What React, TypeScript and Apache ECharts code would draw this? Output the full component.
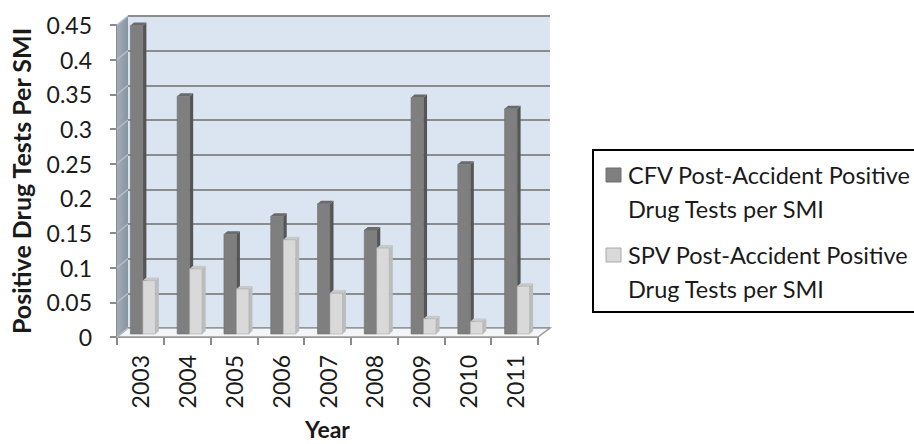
import React, { useEffect, useRef } from "react";
import * as echarts from "echarts";

const years = ["2003", "2004", "2005", "2006", "2007", "2008", "2009", "2010", "2011"];
const cfvValues = [0.445, 0.343, 0.144, 0.17, 0.188, 0.15, 0.341, 0.245, 0.325];
const spvValues = [0.077, 0.094, 0.065, 0.136, 0.059, 0.124, 0.022, 0.018, 0.069];
const yTicks = [0, 0.05, 0.1, 0.15, 0.2, 0.25, 0.3, 0.35, 0.4, 0.45];

const CFV_NAME = "CFV Post-Accident Positive Drug Tests per SMI";
const SPV_NAME = "SPV Post-Accident Positive Drug Tests per SMI";
const CFV_LINES = ["CFV Post-Accident Positive", "Drug Tests per SMI"];
const SPV_LINES = ["SPV Post-Accident Positive", "Drug Tests per SMI"];

const FONT = "Lato";
const WIDTH = 914;
const HEIGHT = 444;

// front plane of the 3-D box
const FRONT = { left: 117, top: 25, width: 421, height: 312 };
// depth offset of the back wall relative to the front plane
const DEPTH_X = 11;
const DEPTH_Y = 9;
const BACK = {
  left: FRONT.left + DEPTH_X,
  top: FRONT.top - DEPTH_Y,
  width: FRONT.width + 1,
  height: FRONT.height,
};

// column geometry
const BAR_W = 12.5;
const BAR_SHIFT_X = 2.5;
const BAR_LIFT = 3;
const SIDE_W = 3.5;
const SIDE_H = 3;

// legend frame (runs off the right edge of the canvas)
const LEGEND = { left: 593, top: 150, bottom: 312 };

type Shade = { front: string; side: string; top: string; edge: string };
const CFV_SHADE: Shade = { front: "#7f7f7f", side: "#555555", top: "#6a6a6a", edge: "#6f6f6f" };
const SPV_SHADE: Shade = { front: "#d9d9d9", side: "#bdbdbd", top: "#c9c9c9", edge: "#a9a9a9" };

function columnRenderer(shade: Shade, leftOfCenter: boolean) {
  return (params: any, api: any) => {
    const idx = api.value(0);
    const v = api.value(1);
    const top = api.coord([idx, v]);
    const base = api.coord([idx, 0]);
    const cx = top[0] + BAR_SHIFT_X;
    const x0 = leftOfCenter ? cx - BAR_W : cx;
    const x1 = x0 + BAR_W;
    const yT = top[1] - BAR_LIFT;
    const yB = base[1] - BAR_LIFT;
    return {
      type: "group",
      children: [
        {
          type: "polygon",
          shape: {
            points: [
              [x1, yT],
              [x1 + SIDE_W, yT - SIDE_H],
              [x1 + SIDE_W, yB - SIDE_H],
              [x1, yB],
            ],
          },
          style: { fill: shade.side },
        },
        {
          type: "polygon",
          shape: {
            points: [
              [x0, yT],
              [x0 + SIDE_W, yT - SIDE_H],
              [x1 + SIDE_W, yT - SIDE_H],
              [x1, yT],
            ],
          },
          style: { fill: shade.top },
        },
        {
          type: "rect",
          shape: { x: x0, y: yT, width: BAR_W, height: yB - yT },
          style: { fill: shade.front, stroke: shade.edge, lineWidth: 0.6 },
        },
      ],
    };
  };
}

// side wall, floor and the slanted grid lines joining front ticks to the back wall
function wallRenderer(params: any, api: any) {
  const v = api.value(0);
  const cs = params.coordSys;
  const yBack = api.coord([0, v])[1];
  const xBack = cs.x;
  const children: any[] = [];
  if (params.dataIndex === 0) {
    const yTopBack = cs.y;
    const yBotBack = cs.y + cs.height;
    children.push({
      type: "polygon",
      shape: {
        points: [
          [xBack, yTopBack],
          [xBack - DEPTH_X, yTopBack + DEPTH_Y],
          [xBack - DEPTH_X, yBotBack + DEPTH_Y],
          [xBack, yBotBack],
        ],
      },
      style: {
        fill: new echarts.graphic.LinearGradient(0, 0, 1, 0, [
          { offset: 0, color: "#a3adb9" },
          { offset: 1, color: "#8793a1" },
        ]),
      },
    });
    children.push({
      type: "polygon",
      shape: {
        points: [
          [xBack, yBotBack],
          [xBack + cs.width, yBotBack],
          [xBack + cs.width - DEPTH_X - 1, yBotBack + DEPTH_Y],
          [xBack - DEPTH_X, yBotBack + DEPTH_Y],
        ],
      },
      style: { fill: "#f3f5f8", stroke: "#9a9a9a", lineWidth: 1.5 },
    });
  }
  children.push({
    type: "line",
    shape: { x1: xBack - DEPTH_X, y1: yBack + DEPTH_Y, x2: xBack, y2: yBack },
    style: { stroke: "#b4bcc6", lineWidth: 1.5 },
  });
  return { type: "group", children };
}

export default function App() {
  const ref = useRef<HTMLDivElement>(null);

  useEffect(() => {
    if (!ref.current) return;
    const chart = echarts.init(ref.current, undefined, { renderer: "svg" });

    const legendText = (lines: string[], y: number) => ({
      type: "text",
      x: 628,
      y,
      style: {
        text: lines.join("\n"),
        font: `23.5px ${FONT}`,
        lineHeight: 34,
        fill: "#1a1a1a",
      },
    });

    chart.setOption({
      animation: false,
      backgroundColor: "#ffffff",
      textStyle: { fontFamily: FONT },
      grid: [
        { ...FRONT, containLabel: false, outerBoundsMode: "none" },
        {
          ...BACK,
          containLabel: false,
          outerBoundsMode: "none",
          show: true,
          backgroundColor: "#dbe5f1",
          borderWidth: 0,
        },
      ],
      xAxis: [
        {
          gridIndex: 0,
          type: "category",
          data: years,
          boundaryGap: true,
          name: "Year",
          nameLocation: "middle",
          nameGap: 80,
          nameTextStyle: { fontFamily: FONT, fontSize: 23, fontWeight: "bold", color: "#1a1a1a" },
          axisLine: { show: true, lineStyle: { color: "#8a8a8a", width: 2 } },
          axisTick: { show: true, length: 8, alignWithLabel: false, lineStyle: { color: "#8a8a8a", width: 2 } },
          axisLabel: {
            rotate: 90,
            margin: 18,
            fontFamily: FONT,
            fontSize: 23,
            color: "#1a1a1a",
          },
          splitLine: { show: false },
        },
        {
          gridIndex: 1,
          type: "category",
          data: years,
          show: false,
        },
      ],
      yAxis: [
        {
          gridIndex: 0,
          type: "value",
          min: 0,
          max: 0.45,
          interval: 0.05,
          name: "Positive Drug Tests Per SMI",
          nameLocation: "middle",
          nameGap: 84,
          nameTextStyle: { fontFamily: FONT, fontSize: 25, fontWeight: "bold", color: "#1a1a1a" },
          axisLine: { show: true, lineStyle: { color: "#8a8a8a", width: 2 } },
          axisTick: { show: true, length: 7, inside: false, lineStyle: { color: "#8a8a8a", width: 2 } },
          axisLabel: {
            margin: 25,
            fontFamily: FONT,
            fontSize: 23,
            color: "#1a1a1a",
            formatter: (v: number) => String(Number(v.toFixed(2))),
          },
          splitLine: { show: false },
        },
        {
          gridIndex: 1,
          type: "value",
          min: 0,
          max: 0.45,
          interval: 0.05,
          axisLine: { show: false },
          axisTick: { show: false },
          axisLabel: { show: false },
          splitLine: { show: true, lineStyle: { color: "#8c8c8c", width: 2 } },
        },
      ],
      series: [
        {
          type: "custom",
          name: "walls",
          xAxisIndex: 1,
          yAxisIndex: 1,
          z: 1,
          silent: true,
          renderItem: wallRenderer,
          data: yTicks.map((t) => [t]),
          encode: { y: 0 },
        },
        {
          type: "custom",
          name: CFV_NAME,
          xAxisIndex: 0,
          yAxisIndex: 0,
          z: 3,
          renderItem: columnRenderer(CFV_SHADE, true),
          data: cfvValues.map((v, i) => [i, v]),
          encode: { x: 0, y: 1 },
        },
        {
          type: "custom",
          name: SPV_NAME,
          xAxisIndex: 0,
          yAxisIndex: 0,
          z: 4,
          renderItem: columnRenderer(SPV_SHADE, false),
          data: spvValues.map((v, i) => [i, v]),
          encode: { x: 0, y: 1 },
        },
      ],
      graphic: [
        {
          type: "polyline",
          shape: {
            points: [
              [WIDTH, LEGEND.top],
              [LEGEND.left, LEGEND.top],
              [LEGEND.left, LEGEND.bottom],
              [WIDTH, LEGEND.bottom],
            ],
          },
          style: { fill: null, stroke: "#000000", lineWidth: 2 },
          z: 10,
        },
        {
          type: "rect",
          shape: { x: 606, y: 168, width: 15, height: 14 },
          style: { fill: CFV_SHADE.front, stroke: CFV_SHADE.edge, lineWidth: 1 },
          z: 11,
        },
        {
          type: "rect",
          shape: { x: 606, y: 248, width: 15, height: 14 },
          style: { fill: SPV_SHADE.front, stroke: SPV_SHADE.edge, lineWidth: 1 },
          z: 11,
        },
        { ...legendText(CFV_LINES, 158), z: 11 },
        { ...legendText(SPV_LINES, 238), z: 11 },
      ],
    });

    return () => chart.dispose();
  }, []);

  return (
    <div
      ref={ref}
      style={{
        position: "absolute",
        left: 0,
        top: 0,
        width: WIDTH,
        height: HEIGHT,
        overflow: "hidden",
      }}
    />
  );
}
